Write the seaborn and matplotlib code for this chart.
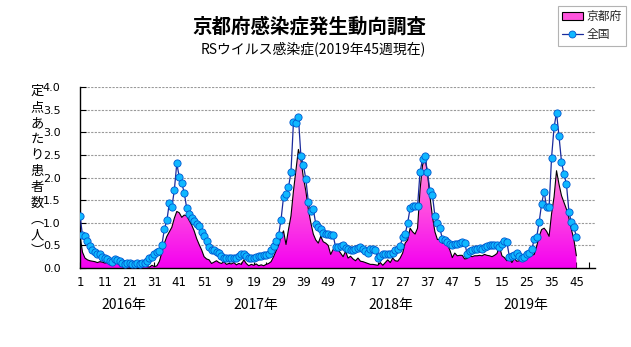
import numpy as np
import pandas as pd
import matplotlib
matplotlib.use("Agg")
import matplotlib.pyplot as plt
import matplotlib.transforms as mtransforms
import seaborn as sns
from matplotlib.colors import LinearSegmentedColormap
from matplotlib.patches import Patch
from matplotlib.lines import Line2D

sns.set_theme(style="white")
plt.rcParams['font.family'] = ['Noto Sans CJK JP', 'DejaVu Sans']

# ---------------- data (per week, 2016 wk1 .. 2019 wk45) ----------------
national_2016 = [1.16, 0.72, 0.70, 0.60, 0.49, 0.40, 0.36, 0.32, 0.30, 0.25,
                 0.23, 0.20, 0.15, 0.13, 0.20, 0.18, 0.15, 0.11, 0.09, 0.10,
                 0.12, 0.08, 0.09, 0.10, 0.08, 0.11, 0.12, 0.16, 0.21, 0.24,
                 0.31, 0.36, 0.38, 0.51, 0.86, 1.05, 1.44, 1.34, 1.72, 2.31,
                 2.01, 1.88, 1.66, 1.32, 1.19, 1.10, 1.03, 0.98, 0.92, 0.80,
                 0.70, 0.59]
national_2017 = [0.47, 0.40, 0.40, 0.36, 0.33, 0.27, 0.23, 0.23, 0.23, 0.22,
                 0.22, 0.23, 0.27, 0.30, 0.32, 0.27, 0.22, 0.23, 0.23, 0.25,
                 0.27, 0.27, 0.28, 0.29, 0.32, 0.39, 0.49, 0.59, 0.72, 1.07,
                 1.57, 1.64, 1.78, 2.12, 3.22, 3.20, 3.33, 2.48, 2.28, 1.96,
                 1.46, 1.26, 1.30, 0.97, 0.90, 0.87, 0.78, 0.76, 0.75, 0.74,
                 0.72, 0.46]
national_2018 = [0.47, 0.48, 0.50, 0.45, 0.41, 0.39, 0.39, 0.42, 0.45, 0.47,
                 0.42, 0.37, 0.34, 0.41, 0.42, 0.39, 0.23, 0.26, 0.30, 0.30,
                 0.30, 0.32, 0.34, 0.39, 0.41, 0.48, 0.69, 0.75, 0.99, 1.32,
                 1.36, 1.36, 1.36, 2.12, 2.40, 2.47, 2.12, 1.71, 1.61, 1.15,
                 0.99, 0.88, 0.64, 0.61, 0.57, 0.52, 0.51, 0.52, 0.54, 0.56,
                 0.57, 0.56]
national_2019 = [0.30, 0.38, 0.40, 0.43, 0.43, 0.44, 0.43, 0.47, 0.49, 0.50,
                 0.51, 0.51, 0.51, 0.47, 0.52, 0.59, 0.57, 0.25, 0.27, 0.29,
                 0.33, 0.27, 0.22, 0.25, 0.30, 0.34, 0.41, 0.63, 0.68, 1.02,
                 1.42, 1.69, 1.34, 1.35, 2.44, 3.11, 3.43, 2.91, 2.35, 2.07,
                 1.85, 1.24, 1.01, 0.90, 0.69]

kyoto_2016 = [0.72, 0.35, 0.22, 0.18, 0.16, 0.15, 0.14, 0.12, 0.14, 0.13,
              0.11, 0.12, 0.10, 0.12, 0.17, 0.14, 0.05, 0.03, 0.02, 0.04,
              0.02, 0.03, 0.01, 0.04, 0.02, 0.02, 0.05, 0.03, 0.02, 0.06,
              0.03, 0.05, 0.15, 0.35, 0.55, 0.70, 0.80, 0.90, 1.10, 1.25,
              1.22, 1.12, 1.17, 1.15, 1.05, 0.95, 0.82, 0.65, 0.52, 0.40,
              0.25, 0.20]
kyoto_2017 = [0.18, 0.10, 0.13, 0.16, 0.12, 0.10, 0.14, 0.08, 0.10, 0.09,
              0.12, 0.07, 0.10, 0.08, 0.18, 0.10, 0.05, 0.08, 0.06, 0.09,
              0.05, 0.07, 0.05, 0.08, 0.10, 0.14, 0.25, 0.38, 0.50, 0.70,
              0.82, 0.52, 0.85, 1.15, 1.70, 2.15, 2.62, 2.40, 2.00, 1.70,
              1.30, 1.00, 0.75, 0.62, 0.55, 0.70, 0.58, 0.55, 0.50, 0.30,
              0.41, 0.48]
kyoto_2018 = [0.40, 0.33, 0.25, 0.37, 0.22, 0.26, 0.20, 0.16, 0.22, 0.15,
              0.14, 0.12, 0.10, 0.08, 0.08, 0.07, 0.06, 0.12, 0.06, 0.12,
              0.18, 0.12, 0.22, 0.16, 0.15, 0.22, 0.33, 0.55, 0.62, 0.88,
              0.80, 0.75, 0.88, 1.72, 2.27, 2.45, 2.09, 1.58, 1.14, 0.80,
              0.63, 0.63, 0.55, 0.62, 0.52, 0.40, 0.23, 0.33, 0.27, 0.28,
              0.28, 0.20]
kyoto_2019 = [0.21, 0.27, 0.25, 0.27, 0.27, 0.28, 0.27, 0.30, 0.28, 0.27,
              0.25, 0.28, 0.32, 0.48, 0.27, 0.23, 0.16, 0.21, 0.12, 0.21,
              0.15, 0.16, 0.21, 0.20, 0.23, 0.25, 0.28, 0.30, 0.48, 0.70,
              0.85, 0.88, 0.81, 0.70, 1.20, 1.57, 2.15, 1.85, 1.60, 1.45,
              1.30, 1.10, 0.85, 0.63, 0.27]

week_tick_labels = ["1", "11", "21", "31", "41", "51", "9", "19", "29", "39", "49",
                    "7", "17", "27", "37", "47", "5", "15", "25", "35", "45"]
year_labels = ["2016年", "2017年", "2018年", "2019年"]
series_labels = ["京都府", "全国"]
title = "京都府感染症発生動向調査"
subtitle = "RSウイルス感染症(2019年45週現在)"
ylabel_chars = "定点あたり患者数︵人︶"

national = national_2016 + national_2017 + national_2018 + national_2019
kyoto = kyoto_2016 + kyoto_2017 + kyoto_2018 + kyoto_2019
df = pd.DataFrame({"idx": np.arange(len(national)), "national": national, "kyoto": kyoto})

# ---------------- figure ----------------
W, H = 631, 347
fig = plt.figure(figsize=(W / 100, H / 100), dpi=100)
fig.patch.set_facecolor("white")
ax = fig.add_axes([80 / W, 1 - 268 / H, (595 - 80) / W, (268 - 87) / H])
ax.set_facecolor("white")

narrow = ['Liberation Sans Narrow', 'DejaVu Sans']

# gridlines
ax.set_axisbelow(True)
ax.yaxis.grid(True, color="#9A9A9A", linestyle=(0, (2, 1.2)), linewidth=0.8)
ax.xaxis.grid(False)

# Kyoto area with vertical gradient
poly = ax.fill_between(df["idx"], 0, df["kyoto"], facecolor="none", edgecolor="none", zorder=2)
cmap = LinearSegmentedColormap.from_list("pinkgrad", ["#F400F0", "#FF4FE0", "#FFA6D4"])
grad = np.linspace(0, 1, 256).reshape(-1, 1)
im = ax.imshow(grad, extent=[0, len(kyoto) - 1, 0, 2.7], origin="lower", aspect="auto",
               cmap=cmap, zorder=2, interpolation="bilinear")
im.set_clip_path(poly.get_paths()[0], ax.transData)
sns.lineplot(data=df, x="idx", y="kyoto", color="black", linewidth=0.8, ax=ax, zorder=3)

# national line
sns.lineplot(data=df, x="idx", y="national", color="#1A2A9C", linewidth=0.9, marker="o",
             markersize=5.2, markerfacecolor="#10B8FF", markeredgecolor="#0058D0",
             markeredgewidth=0.6, ax=ax, zorder=4)

ax.set_xlim(0, 207.5)
ax.set_ylim(0, 4.0)
ax.set_xlabel("")
ax.set_ylabel("")

for s in ["top", "right"]:
    ax.spines[s].set_visible(False)
for s in ["left", "bottom"]:
    ax.spines[s].set_color("black")
    ax.spines[s].set_linewidth(1.0)

yt = np.arange(0, 4.01, 0.5)
ax.set_yticks(yt)
ax.set_yticklabels([f"{v:.1f}" for v in yt], family=narrow, fontsize=8)
ax.tick_params(axis="y", direction="in", length=4, width=0.8, pad=14, colors="black", left=True)

xt = np.arange(0, len(national), 10)
ax.set_xticks(xt)
ax.set_xticklabels(week_tick_labels, family=narrow, fontsize=8.5)
ax.set_xticks(np.arange(5, 208, 10), minor=True)
ax.tick_params(axis="x", which="both", direction="in", length=4, width=0.8, pad=6,
               colors="black", bottom=True)

# year labels under axis
trans = mtransforms.blended_transform_factory(ax.transData, fig.transFigure)
for lab, xpos in zip(year_labels, [17.5, 71, 125.4, 179.8]):
    ax.text(xpos, 1 - 305 / H, lab, transform=trans, ha="center", va="center",
            fontsize=10, color="black")

# titles
fig.text(309 / W, 1 - 26.5 / H, title, ha="center", va="center", fontsize=14,
         fontweight="bold", color="black")
fig.text(313 / W, 1 - 49 / H, subtitle, ha="center", va="center", fontsize=10, color="black")

# vertical y label (one stacked text)
fig.text(37 / W, 1 - 85 / H, "\n".join(ylabel_chars), ha="center", va="top", fontsize=9.5,
         linespacing=1.3, color="black")

# legend
handles = [Patch(facecolor="#FF55DD", edgecolor="black", linewidth=0.8),
           Line2D([0], [0], color="#1A2A9C", lw=0.9, marker="o", markersize=5,
                  markerfacecolor="#10B8FF", markeredgecolor="#0058D0", markeredgewidth=0.6)]
leg = fig.legend(handles, series_labels, loc="upper right", bbox_to_anchor=(626 / W, 1 - 6 / H),
                 frameon=True, fancybox=False, fontsize=8.5, handlelength=1.8,
                 handleheight=0.6, borderpad=0.35, labelspacing=0.45, handletextpad=0.3,
                 borderaxespad=0)
leg.get_frame().set_edgecolor("#A0A0A0")
leg.get_frame().set_linewidth(0.8)

fig.savefig("out.png", dpi=100, facecolor="white")
